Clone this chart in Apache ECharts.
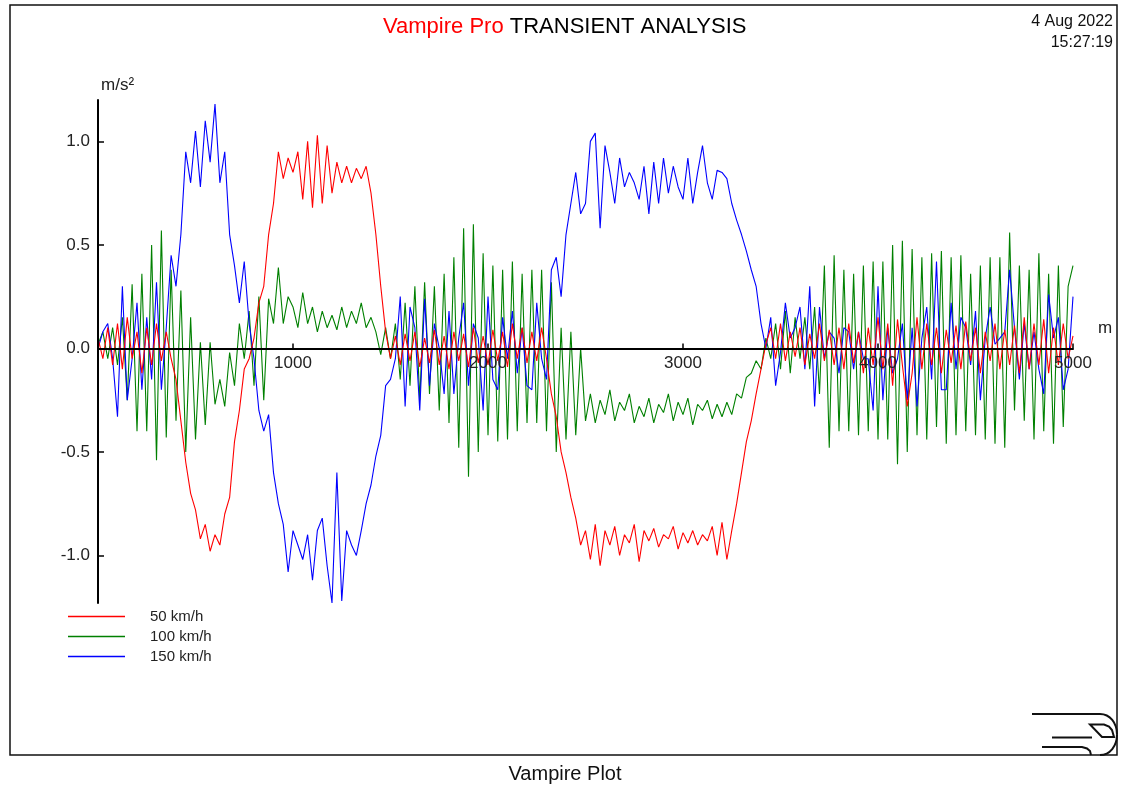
<!DOCTYPE html>
<html>
<head>
<meta charset="utf-8">
<script src="https://cdn.jsdelivr.net/npm/echarts@6/dist/echarts.min.js"></script>
<style>
html,body{margin:0;padding:0;background:#fff;}
#chart{width:1125px;height:787px;}
</style>
</head>
<body>
<div id="chart"></div>
<script>
// distance along track (m)
const distance = [
0,25,50,75,100,125,150,175,200,225,250,275,300,325,350,375,400,425,450,475,
500,525,550,575,600,625,650,675,700,725,750,775,800,825,850,875,900,925,950,975,
1000,1025,1050,1075,1100,1125,1150,1175,1200,1225,1250,1275,1300,1325,1350,1375,1400,1425,1450,1475,
1500,1525,1550,1575,1600,1625,1650,1675,1700,1725,1750,1775,1800,1825,1850,1875,1900,1925,1950,1975,
2000,2025,2050,2075,2100,2125,2150,2175,2200,2225,2250,2275,2300,2325,2350,2375,2400,2425,2450,2475,
2500,2525,2550,2575,2600,2625,2650,2675,2700,2725,2750,2775,2800,2825,2850,2875,2900,2925,2950,2975,
3000,3025,3050,3075,3100,3125,3150,3175,3200,3225,3250,3275,3300,3325,3350,3375,3400,3425,3450,3475,
3500,3525,3550,3575,3600,3625,3650,3675,3700,3725,3750,3775,3800,3825,3850,3875,3900,3925,3950,3975,
4000,4025,4050,4075,4100,4125,4150,4175,4200,4225,4250,4275,4300,4325,4350,4375,4400,4425,4450,4475,
4500,4525,4550,4575,4600,4625,4650,4675,4700,4725,4750,4775,4800,4825,4850,4875,4900,4925,4950,4975,
5000];

// 50 km/h lateral acceleration (m/s²)
const speed50 = [
0.05,-0.05,0.10,-0.08,0.12,-0.10,0.15,-0.05,0.08,-0.12,0.10,-0.08,0.12,-0.06,0.08,-0.05,
-0.15,-0.35,-0.55,-0.70,-0.78,
-0.92,-0.85,-0.98,-0.90,-0.95,-0.80,-0.72,-0.45,-0.30,-0.10,
-0.05,0.05,0.22,0.30,0.55,0.70,0.95,0.82,0.92,0.85,
0.95,0.72,1.00,0.68,1.03,0.70,0.98,0.75,0.90,0.80,
0.88,0.80,0.87,0.82,0.88,0.75,0.55,0.30,0.08,-0.05,
0.06,-0.08,0.07,-0.06,0.08,-0.09,0.05,-0.07,0.09,-0.08,
0.06,-0.10,0.08,-0.06,0.07,-0.09,0.10,-0.07,0.06,-0.08,
0.09,-0.06,0.08,-0.09,0.12,-0.05,0.10,-0.07,0.08,-0.06,
0.10,
-0.05,-0.22,-0.33,-0.50,-0.60,-0.72,-0.82,-0.95,-0.88,
-1.02,-0.85,-1.05,-0.88,-0.95,-0.86,-1.00,-0.90,-0.94,-0.85,
-1.03,-0.88,-0.93,-0.87,-0.96,-0.90,-0.92,-0.86,-0.97,-0.89,
-0.94,-0.88,-0.95,-0.90,-0.93,-0.86,-1.00,-0.84,-1.02,
-0.88,-0.75,-0.60,-0.45,-0.35,-0.22,-0.10,0.02,
0.10,-0.05,0.12,-0.06,0.08,-0.04,0.10,-0.08,0.07,-0.05,
0.12,-0.06,0.09,-0.08,0.10,-0.10,0.12,-0.07,0.08,-0.12,
0.10,-0.08,0.15,-0.10,0.12,-0.18,0.14,-0.08,-0.28,-0.12,
0.15,-0.10,0.12,-0.08,0.10,-0.12,0.09,-0.07,0.11,-0.10,
0.13,-0.06,0.10,-0.12,0.08,-0.06,0.12,-0.10,0.09,-0.08,
0.11,-0.12,0.15,-0.10,0.12,-0.08,0.14,-0.12,0.10,-0.08,
0.12,-0.05,0.06];

// 100 km/h
const speed100 = [
0.02,0.08,-0.05,0.10,-0.08,
0.15,-0.25,0.31,-0.40,0.36,-0.40,
0.50,-0.54,0.57,-0.43,0.38,-0.35,0.28,-0.50,0.15,-0.44,
0.03,-0.37,0.03,-0.27,-0.15,-0.28,-0.02,-0.18,0.12,-0.05,
0.18,-0.18,0.25,-0.25,0.24,0.12,0.39,0.12,0.25,0.20,
0.10,0.27,0.12,0.20,0.08,0.18,0.10,0.16,0.09,0.20,
0.10,0.18,0.12,0.22,0.10,0.15,0.08,-0.03,0.10,-0.05,
0.12,-0.15,0.22,-0.18,0.30,-0.25,0.32,-0.22,0.30,-0.30,
0.36,-0.36,0.44,-0.48,0.58,-0.62,0.60,-0.50,0.46,-0.42,
0.40,-0.45,0.38,-0.44,0.42,-0.40,0.36,-0.36,0.38,-0.36,
0.38,-0.40,0.32,-0.50,0.10,-0.44,0.08,-0.42,0.00,-0.35,
-0.22,-0.36,-0.25,-0.32,-0.20,-0.35,-0.26,-0.30,-0.22,-0.36,
-0.28,-0.33,-0.24,-0.36,-0.27,-0.31,-0.22,-0.35,-0.26,-0.32,
-0.24,-0.37,-0.27,-0.30,-0.25,-0.34,-0.27,-0.33,-0.26,-0.32,
-0.22,-0.24,-0.14,-0.12,-0.06,-0.10,0.05,-0.05,0.12,-0.10,
0.18,-0.12,0.15,-0.05,0.15,-0.10,0.20,-0.22,0.40,-0.48,
0.45,-0.40,0.38,-0.40,0.36,-0.42,0.40,-0.40,0.42,-0.44,
0.42,-0.44,0.50,-0.56,0.52,-0.50,0.48,-0.42,0.44,-0.44,
0.46,-0.38,0.47,-0.46,0.44,-0.42,0.45,-0.40,0.36,-0.42,
0.40,-0.44,0.44,-0.46,0.44,-0.48,0.56,-0.30,0.40,-0.35,
0.38,-0.44,0.46,-0.40,0.36,-0.46,0.40,-0.38,0.30,0.40];

// 150 km/h
const speed150 = [
0.00,0.08,0.12,-0.05,-0.33,0.30,-0.25,-0.05,0.22,-0.20,0.15,
-0.15,0.32,-0.20,0.10,0.45,0.30,0.55,0.95,0.80,1.05,
0.78,1.10,0.90,1.18,0.80,0.95,0.55,0.40,0.22,0.42,
0.12,-0.05,-0.30,-0.40,-0.32,-0.60,-0.75,-0.85,-1.08,-0.88,
-0.95,-1.02,-0.90,-1.12,-0.88,-0.82,-1.05,-1.23,-0.60,-1.22,
-0.88,-0.95,-1.00,-0.88,-0.75,-0.66,-0.52,-0.42,-0.18,-0.15,
-0.05,0.25,-0.28,0.20,0.10,-0.30,0.24,-0.18,0.12,0.00,
-0.22,0.18,-0.22,0.05,0.22,-0.18,0.12,0.05,-0.30,0.25,
-0.15,-0.20,0.15,-0.05,0.18,-0.12,0.10,-0.18,-0.20,0.22,
-0.05,-0.15,0.38,0.44,0.25,0.55,0.70,0.85,0.65,0.70,
1.00,1.04,0.58,0.98,0.85,0.70,0.92,0.78,0.85,0.80,
0.72,0.88,0.65,0.90,0.70,0.92,0.75,0.88,0.78,0.72,
0.92,0.70,0.85,0.98,0.80,0.72,0.86,0.85,0.82,0.70,
0.62,0.55,0.47,0.38,0.30,0.12,0.00,0.15,-0.18,-0.02,
0.22,0.05,0.10,0.20,-0.10,0.30,-0.28,0.20,-0.05,0.08,
0.05,-0.12,0.10,0.08,-0.10,0.08,-0.05,-0.05,-0.30,0.30,
-0.25,0.10,-0.12,-0.05,0.12,-0.25,0.10,-0.28,0.05,0.20,
-0.15,0.42,-0.20,-0.20,0.22,-0.10,0.15,0.10,-0.08,0.18,
-0.25,0.05,0.20,0.02,0.05,0.08,0.38,0.10,-0.15,0.12,
-0.10,0.08,-0.10,-0.22,0.26,0.05,0.15,-0.20,-0.10,0.25];

const seriesNames = ['50 km/h', '100 km/h', '150 km/h'];
const xTicks = [1000, 2000, 3000, 4000, 5000];
const yTicks = [-1.0, -0.5, 0.0, 0.5, 1.0];

function pairs(vals) { return distance.map((d, i) => [d, vals[i]]); }

const Y_MIN = -1.23, Y_MAX = 1.2;
const GRID = {left: 98, right: 52, top: 100, bottom: 184};
const plotH = 787 - GRID.top - GRID.bottom;
// move the x axis (line, ticks, labels) up from the grid bottom to the zero line
const xAxisOffset = -plotH * (0 - Y_MIN) / (Y_MAX - Y_MIN);

const chart = echarts.init(document.getElementById('chart'), null, {renderer: 'canvas'});
const FONT = '"Liberation Sans", Arial, sans-serif';
const LOGO = {fill: 'none', stroke: '#111', lineWidth: 2};

chart.setOption({
  animation: false,
  backgroundColor: '#ffffff',
  textStyle: {fontFamily: FONT},
  title: {
    text: '{r|Vampire Pro} {b|TRANSIENT ANALYSIS}',
    left: 383, top: 16, padding: 0,
    textStyle: {
      fontFamily: FONT, fontWeight: 'normal', fontSize: 22,
      rich: {
        r: {color: '#ff0000', fontSize: 22, fontWeight: 'normal', fontFamily: FONT},
        b: {color: '#000000', fontSize: 22, fontWeight: 'normal', fontFamily: FONT}
      }
    }
  },
  legend: {
    orient: 'vertical', left: 68, top: 609, padding: 0,
    itemWidth: 57, itemHeight: 1.5, itemGap: 5, icon: 'rect',
    selectedMode: false,
    data: seriesNames,
    textStyle: {fontSize: 15, color: '#222', fontFamily: FONT, padding: [0, 0, 0, 20], lineHeight: 15}
  },
  grid: GRID,
  xAxis: {
    type: 'value', min: 0, max: 5000, z: 5, position: 'bottom', offset: xAxisOffset,
    axisLine: {show: true, onZero: false, lineStyle: {color: '#000', width: 2}},
    axisTick: {show: true, inside: true, length: 5, customValues: xTicks, lineStyle: {color: '#000', width: 1.5}},
    axisLabel: {customValues: xTicks, fontSize: 17, color: '#222', margin: 6, fontFamily: FONT,
      formatter: v => String(v)},
    splitLine: {show: false}
  },
  yAxis: {
    type: 'value', min: Y_MIN, max: Y_MAX, z: 5,
    axisLine: {show: true, onZero: false, lineStyle: {color: '#000', width: 2}},
    axisTick: {show: true, inside: true, length: 6, customValues: yTicks, lineStyle: {color: '#000', width: 1.5}},
    axisLabel: {customValues: yTicks, fontSize: 17, color: '#222', margin: 8, fontFamily: FONT,
      formatter: v => Number(v).toFixed(1)},
    splitLine: {show: false}
  },
  series: [
    {name: seriesNames[1], type: 'line', data: pairs(speed100), showSymbol: false, z: 2,
     lineStyle: {color: '#008000', width: 1.1}, itemStyle: {color: '#008000'}},
    {name: seriesNames[2], type: 'line', data: pairs(speed150), showSymbol: false, z: 3,
     lineStyle: {color: '#0000ff', width: 1.1}, itemStyle: {color: '#0000ff'}},
    {name: seriesNames[0], type: 'line', data: pairs(speed50), showSymbol: false, z: 4,
     lineStyle: {color: '#ff0000', width: 1.1}, itemStyle: {color: '#ff0000'}}
  ],
  graphic: [
    {type: 'rect', shape: {x: 10, y: 5, width: 1107, height: 750}, silent: true,
     style: {fill: 'none', stroke: '#111', lineWidth: 1.5}},
    {type: 'text', x: 1113, y: 22, silent: true,
     style: {text: '4 Aug 2022', fontSize: 16, fill: '#111', align: 'right', verticalAlign: 'middle', fontFamily: FONT}},
    {type: 'text', x: 1113, y: 43, silent: true,
     style: {text: '15:27:19', fontSize: 16, fill: '#111', align: 'right', verticalAlign: 'middle', fontFamily: FONT}},
    {type: 'text', x: 101, y: 85, silent: true,
     style: {text: 'm/s²', fontSize: 17, fill: '#222', align: 'left', verticalAlign: 'middle', fontFamily: FONT}},
    {type: 'text', x: 1098, y: 328, silent: true,
     style: {text: 'm', fontSize: 17, fill: '#222', align: 'left', verticalAlign: 'middle', fontFamily: FONT}},
    {type: 'text', x: 565, y: 774, silent: true,
     style: {text: 'Vampire Plot', fontSize: 20, fill: '#111', align: 'center', verticalAlign: 'middle', fontFamily: FONT}},
    {type: 'line', silent: true, shape: {x1: 1032, y1: 714, x2: 1100, y2: 714}, style: LOGO},
    {type: 'bezierCurve', silent: true, shape: {x1: 1100, y1: 714, cpx1: 1110, cpy1: 714, cpx2: 1117, cpy2: 723, x2: 1117, y2: 734.5}, style: LOGO},
    {type: 'bezierCurve', silent: true, shape: {x1: 1117, y1: 734.5, cpx1: 1117, cpy1: 746, cpx2: 1110, cpy2: 755, x2: 1100, y2: 755}, style: LOGO},
    {type: 'polygon', silent: true, shape: {points: [[1090, 724.5], [1104, 724.5], [1109, 726.5], [1112, 730], [1114, 737], [1102, 737]]}, style: LOGO},
    {type: 'line', silent: true, shape: {x1: 1052, y1: 737.5, x2: 1092, y2: 737.5}, style: LOGO},
    {type: 'polyline', silent: true, shape: {points: [[1042, 747], [1082, 747], [1087, 748.5], [1090, 751], [1091, 755]]}, style: LOGO}
  ]
});
</script>
</body>
</html>
